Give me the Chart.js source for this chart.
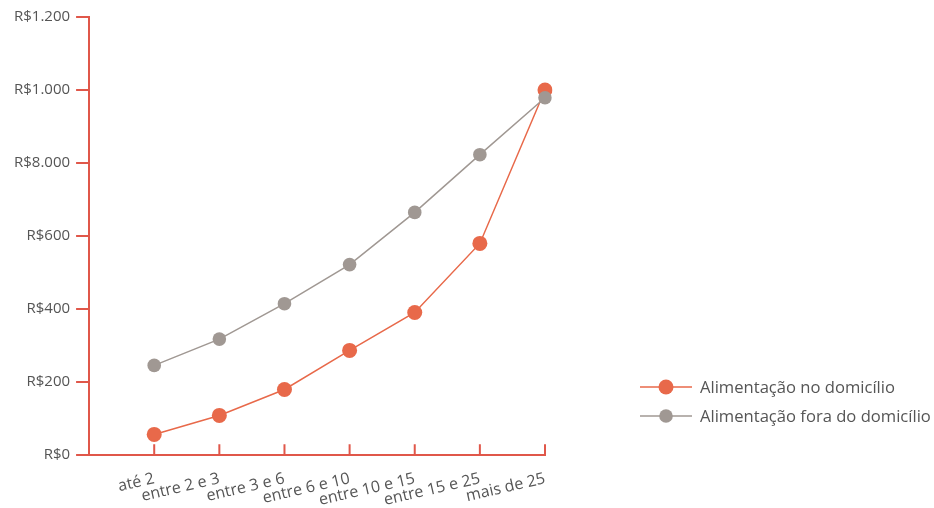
<!DOCTYPE html>
<html lang="pt-BR">
<head>
<meta charset="utf-8">
<script src="https://cdn.jsdelivr.net/npm/chart.js@4/dist/chart.umd.min.js"></script>
<style>
  html, body { margin: 0; padding: 0; background: #ffffff; }
  #wrap { width: 934px; height: 508px; position: relative; }
</style>
</head>
<body>
<div id="wrap"><canvas id="grafico"></canvas></div>
<script>
// Faixas de renda (salários mínimos); a primeira posição fica vazia junto ao eixo
const faixas = ['', 'até 2', 'entre 2 e 3', 'entre 3 e 6', 'entre 6 e 10', 'entre 10 e 15', 'entre 15 e 25', 'mais de 25'];

// Gasto médio mensal (R$)
const noDomicilio = [null, 57, 109, 180, 287, 391, 580, 1000];
const foraDoDomicilio = [null, 246, 318, 415, 522, 665, 823, 979];

// Rótulos do eixo vertical, um por marca (0 a 1200, de 200 em 200)
const rotulosEixoY = ['R$0', 'R$200', 'R$400', 'R$600', 'R$8.000', 'R$1.000', 'R$1.200'];

const nomesSeries = ['Alimentação no domicílio', 'Alimentação fora do domicílio'];

const LARANJA = '#e8694a';
const CINZA = '#a09893';
const EIXO = '#e0574a';
const TEXTO = '#555555';
const FONTE = '"Open Sans", Lato, sans-serif';

// Marcas do eixo X voltadas para dentro da área do gráfico
const marcasX = {
  id: 'marcasX',
  afterDraw(chart) {
    const x = chart.scales.x;
    const ctx = chart.ctx;
    ctx.save();
    ctx.strokeStyle = EIXO;
    ctx.lineWidth = 2;
    ctx.beginPath();
    for (let i = 1; i < faixas.length; i++) {
      const px = x.getPixelForTick(i);
      ctx.moveTo(px, x.top);
      ctx.lineTo(px, x.top - 11);
    }
    ctx.stroke();
    ctx.restore();
  }
};

// Legenda à direita: linha com marcador circular
const legendaLateral = {
  id: 'legendaLateral',
  afterDraw(chart) {
    const ctx = chart.ctx;
    const itens = chart.data.datasets;
    const x0 = 640, y0 = 387, passo = 29;
    ctx.save();
    itens.forEach((ds, i) => {
      const y = y0 + i * passo;
      ctx.strokeStyle = ds.borderColor;
      ctx.lineWidth = 1.5;
      ctx.beginPath();
      ctx.moveTo(x0, y);
      ctx.lineTo(x0 + 52, y);
      ctx.stroke();
      ctx.fillStyle = ds.pointBackgroundColor;
      ctx.beginPath();
      ctx.arc(x0 + 26, y, ds.pointRadius, 0, Math.PI * 2);
      ctx.fill();
      ctx.fillStyle = TEXTO;
      ctx.font = '16.6px ' + FONTE;
      ctx.textAlign = 'left';
      ctx.textBaseline = 'middle';
      ctx.fillText(ds.label, x0 + 60, y + 1);
    });
    ctx.restore();
  }
};

new Chart(document.getElementById('grafico'), {
  type: 'line',
  data: {
    labels: faixas,
    datasets: [
      {
        label: nomesSeries[0],
        data: noDomicilio,
        borderColor: LARANJA,
        backgroundColor: LARANJA,
        pointBackgroundColor: LARANJA,
        pointBorderWidth: 0,
        pointRadius: 7.5,
        borderWidth: 1.5,
        tension: 0,
        order: 1
      },
      {
        label: nomesSeries[1],
        data: foraDoDomicilio,
        borderColor: CINZA,
        backgroundColor: CINZA,
        pointBackgroundColor: CINZA,
        pointBorderWidth: 0,
        pointRadius: 6.8,
        borderWidth: 1.5,
        tension: 0,
        order: 0
      }
    ]
  },
  options: {
    responsive: true,
    maintainAspectRatio: false,
    animation: false,
    layout: { padding: { top: 17, right: 389, left: 8, bottom: -16 } },
    plugins: {
      legend: { display: false },
      tooltip: { enabled: false }
    },
    scales: {
      x: {
        offset: false,
        grid: { display: false, drawTicks: false },
        border: { color: EIXO, width: 2 },
        ticks: {
          color: TEXTO,
          font: { family: FONTE, size: 16 },
          minRotation: 13,
          maxRotation: 13,
          autoSkip: false,
          padding: 14
        }
      },
      y: {
        min: 0,
        max: 1200,
        grid: {
          drawOnChartArea: false,
          color: EIXO,
          lineWidth: 2,
          tickLength: 13
        },
        border: { color: EIXO, width: 2 },
        ticks: {
          stepSize: 200,
          color: TEXTO,
          font: { family: FONTE, size: 15 },
          padding: 6,
          callback: (v, i) => rotulosEixoY[i]
        }
      }
    }
  },
  plugins: [marcasX, legendaLateral]
});
</script>
</body>
</html>
